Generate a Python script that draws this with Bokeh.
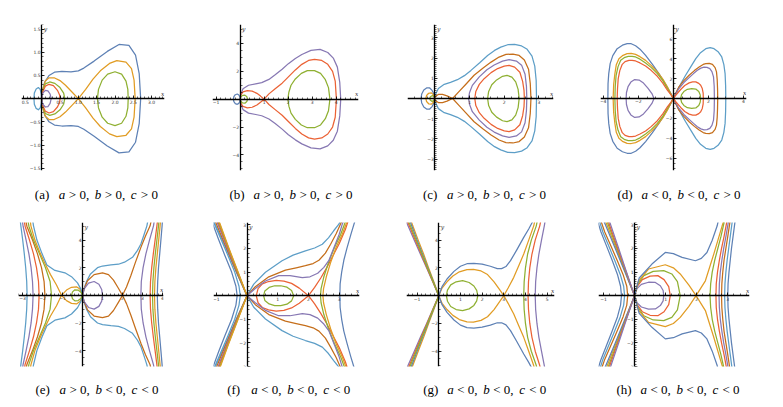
import numpy as np
from bokeh.plotting import figure
from bokeh.models import ColumnDataSource, FixedTicker, Label, Range1d
from bokeh.core.properties import value
from bokeh.layouts import row, column
from bokeh.embed import file_html
from bokeh.resources import INLINE

BLUE = "#5E81B5"; ORANGE = "#E19C24"; GREEN = "#8FB032"; RED = "#EB6235"
PURPLE = "#8778B3"; DORANGE = "#C56E1A"; LBLUE = "#5D9EC7"

# ---------------- curve data (upper halves / one branch; the other is the x-axis mirror)
# (a)
a_big = [(0,0),(0.02,0.15),(0.08,0.35),(0.2,0.5),(0.35,0.57),(0.55,0.59),(0.8,0.58),(1.0,0.6),(1.15,0.66),(1.43,0.81),(1.79,1.02),(2.11,1.17),(2.38,1.15),(2.56,0.94),(2.66,0.54),(2.7,0)]
a_sep = [(0,0),(0.03,0.2),(0.1,0.38),(0.2,0.45),(0.34,0.45),(0.5,0.39),(0.65,0.29),(0.82,0.15),(1.0,0),(1.2,0.2),(1.4,0.42),(1.6,0.6),(1.85,0.76),(2.05,0.82),(2.3,0.79),(2.45,0.65),(2.52,0.4),(2.55,0)]
a_green_l = [(0,0),(0.03,0.18),(0.1,0.32),(0.22,0.36),(0.36,0.33),(0.5,0.24),(0.6,0.12),(0.63,0)]
a_green_r = [(1.52,0),(1.55,0.2),(1.65,0.4),(1.8,0.53),(2.0,0.58),(2.18,0.53),(2.3,0.38),(2.35,0.2),(2.36,0)]
a_red = [(0,0),(0.03,0.15),(0.1,0.27),(0.2,0.31),(0.32,0.28),(0.43,0.18),(0.49,0.08),(0.5,0)]
a_purple = [(0,0),(0.03,0.12),(0.1,0.18),(0.17,0.17),(0.23,0.1),(0.26,0)]
a_oval = [(-0.21,0),(-0.2,0.12),(-0.15,0.21),(-0.09,0.24),(-0.04,0.2),(-0.01,0.1),(0,0)]
# (b)
b_big = [(0,0),(0.03,0.35),(0.12,0.75),(0.35,1.0),(0.65,1.1),(0.9,1.19),(1.2,1.42),(1.46,1.75),(1.75,2.15),(2.01,2.55),(2.3,2.92),(2.57,3.21),(2.95,3.5),(3.33,3.57),(3.65,3.35),(3.88,2.95),(4.05,2.3),(4.15,1.2),(4.19,0)]
b_sep = [(0,0),(0.03,0.3),(0.12,0.52),(0.3,0.62),(0.5,0.58),(0.7,0.42),(0.85,0.22),(1.0,0),(1.2,0.38),(1.46,0.75),(1.75,1.15),(2.01,1.6),(2.3,2.1),(2.57,2.5),(2.85,2.78),(3.1,2.86),(3.4,2.78),(3.65,2.5),(3.85,2.0),(3.96,1.3),(4.01,0)]
b_green_l = [(0,0),(0.03,0.15),(0.1,0.27),(0.2,0.29),(0.28,0.17),(0.31,0)]
b_green_r = [(1.99,0),(2.03,0.5),(2.12,1.0),(2.3,1.45),(2.55,1.85),(2.8,2.05),(3.1,2.05),(3.35,1.85),(3.55,1.4),(3.68,0.83),(3.74,0)]
b_oval = [(-0.28,0),(-0.26,0.18),(-0.2,0.32),(-0.12,0.37),(-0.05,0.3),(-0.01,0.15),(0,0)]
# (c)
c_big = [(0,0),(0.03,0.25),(0.1,0.5),(0.27,0.7),(0.45,0.8),(0.65,0.93),(0.85,1.13),(1.04,1.39),(1.3,1.78),(1.52,2.13),(1.72,2.38),(1.9,2.54),(2.1,2.66),(2.3,2.68),(2.5,2.6),(2.65,2.45),(2.8,2.1),(2.88,1.6),(2.92,0.9),(2.93,0)]
c_sep = [(0,0),(0.03,0.13),(0.1,0.2),(0.22,0.2),(0.35,0.13),(0.51,0),(0.7,0.35),(0.9,0.72),(1.13,1.15),(1.4,1.52),(1.62,1.8),(1.85,2.05),(2.05,2.18),(2.25,2.2),(2.43,2.13),(2.58,1.9),(2.7,1.45),(2.75,0.74),(2.77,0)]
c_purple = [(0.97,0),(1.0,0.3),(1.08,0.65),(1.28,1.07),(1.5,1.42),(1.71,1.66),(1.95,1.85),(2.14,1.92),(2.35,1.85),(2.5,1.65),(2.6,1.2),(2.64,0.6),(2.65,0)]
c_red = [(1.15,0),(1.18,0.35),(1.28,0.7),(1.42,0.98),(1.62,1.28),(1.81,1.48),(2.0,1.6),(2.14,1.64),(2.3,1.55),(2.45,1.3),(2.53,0.85),(2.57,0.4),(2.58,0)]
c_green = [(1.52,0),(1.55,0.35),(1.64,0.68),(1.78,0.92),(1.95,1.1),(2.08,1.14),(2.22,1.06),(2.33,0.82),(2.4,0.45),(2.43,0)]
c_oval_b = [(-0.4,0),(-0.38,0.22),(-0.32,0.42),(-0.24,0.52),(-0.15,0.52),(-0.08,0.4),(-0.03,0.22),(0,0)]
c_oval_o = [(-0.26,0),(-0.24,0.15),(-0.18,0.26),(-0.1,0.28),(-0.04,0.18),(0,0)]
c_oval_g = [(-0.15,0),(-0.13,0.09),(-0.08,0.14),(-0.03,0.1),(0,0)]
# (d)
d_blue_l = [(0,0),(-0.12,0.45),(-0.3,1.0),(-0.55,1.75),(-0.82,2.5),(-1.2,3.45),(-1.58,4.33),(-1.9,4.95),(-2.15,5.3),(-2.4,5.5),(-2.63,5.5),(-2.9,5.35),(-3.2,5.0),(-3.45,4.3),(-3.6,3.5),(-3.68,2.5),(-3.72,1.5),(-3.73,0)]
d_orange_l = [(0,0),(-0.12,0.4),(-0.34,1.17),(-0.6,1.95),(-0.91,2.67),(-1.25,3.3),(-1.58,3.83),(-1.9,4.2),(-2.15,4.43),(-2.4,4.52),(-2.63,4.5),(-2.9,4.3),(-3.1,4.0),(-3.25,3.4),(-3.33,2.5),(-3.4,1.4),(-3.43,0)]
d_green_l = [(0,0),(-0.12,0.37),(-0.34,1.0),(-0.6,1.8),(-0.91,2.5),(-1.25,3.1),(-1.58,3.57),(-1.9,3.95),(-2.15,4.17),(-2.35,4.23),(-2.57,4.23),(-2.8,4.1),(-3.0,3.83),(-3.15,3.2),(-3.26,2.33),(-3.31,1.2),(-3.33,0)]
d_red_l = [(0,0),(-0.12,0.33),(-0.34,0.83),(-0.6,1.55),(-0.91,2.23),(-1.25,2.8),(-1.58,3.27),(-1.9,3.57),(-2.15,3.77),(-2.35,3.83),(-2.53,3.83),(-2.75,3.7),(-2.91,3.43),(-3.05,2.8),(-3.14,2.0),(-3.18,1.0),(-3.2,0)]
d_purple_l = [(-2.69,0),(-2.67,0.6),(-2.58,1.2),(-2.42,1.65),(-2.2,1.9),(-1.95,1.85),(-1.7,1.55),(-1.45,1.05),(-1.22,0.5),(-1.1,0)]
d_lblue_r = [(0,0),(0.1,0.4),(0.23,0.83),(0.45,1.55),(0.7,2.33),(1.0,3.2),(1.28,4.0),(1.55,4.6),(1.85,5.0),(2.1,5.1),(2.32,5.0),(2.55,4.7),(2.76,4.17),(2.88,3.4),(2.95,2.5),(2.98,1.3),(2.99,0)]
d_dorange_r = [(0,0),(0.12,0.45),(0.32,1.17),(0.6,1.8),(0.9,2.33),(1.2,2.8),(1.47,3.17),(1.7,3.42),(1.85,3.5),(2.05,3.52),(2.23,3.43),(2.38,3.1),(2.46,2.67),(2.5,1.9),(2.52,1.0),(2.53,0)]
d_purple_r = [(0,0),(0.12,0.4),(0.32,1.0),(0.6,1.6),(0.9,2.1),(1.15,2.5),(1.37,2.83),(1.57,3.05),(1.75,3.15),(1.92,3.12),(2.08,3.0),(2.2,2.7),(2.29,2.17),(2.33,1.2),(2.34,0)]
d_red_r = [(0,0),(0.15,0.35),(0.42,0.9),(0.65,1.3),(0.9,1.57),(1.1,1.67),(1.28,1.67),(1.45,1.52),(1.56,1.33),(1.65,1.0),(1.7,0.55),(1.71,0)]
d_green_r = [(0.42,0),(0.47,0.4),(0.6,0.7),(0.8,0.92),(1.05,1.0),(1.28,0.95),(1.45,0.7),(1.53,0.38),(1.56,0)]
# (e)
e_lb_l = [(-2.77,0),(-2.79,1),(-2.84,2),(-2.91,3),(-2.99,4),(-3.08,5),(-3.12,5.5)]
e_pu_l = [(-2.47,0),(-2.5,1),(-2.57,2),(-2.68,3),(-2.82,4),(-2.97,5),(-3.02,5.5)]
e_re_l = [(-2.17,0),(-2.2,1),(-2.3,2),(-2.45,3),(-2.65,4),(-2.87,5),(-2.93,5.5)]
e_do_l = [(-1.88,0),(-1.92,1),(-2.05,2),(-2.25,3),(-2.5,4),(-2.78,5),(-2.85,5.5)]
e_gr_l = [(-1.55,0),(-1.62,1),(-1.85,2),(-2.15,3),(-2.45,4),(-2.68,5),(-2.74,5.5)]
e_or_sep = [(-2.62,5.5),(-2.58,5.03),(-2.38,4.0),(-2.1,3.0),(-1.84,2.2),(-1.6,1.5),(-1.3,0.75),(-1.05,0),(-0.8,-0.38),(-0.55,-0.58),(-0.3,-0.62),(-0.13,-0.45),(-0.03,-0.18),(0,0)]
e_lb_mid = [(-2.5,5.5),(-2.45,5.03),(-2.28,4.0),(-2.02,3.0),(-1.78,2.2),(-1.38,1.8),(-0.88,1.63),(-0.55,1.35),(-0.25,0.9),(-0.08,0.45),(0,0),(0.08,0.5),(0.2,1.0),(0.4,1.55),(0.75,2.0),(1.0,2.12),(1.42,2.2),(1.8,2.25),(2.1,2.4),(2.5,2.75),(2.75,3.25),(2.92,3.71),(3.08,4.4),(3.22,5.03),(3.28,5.5)]
e_do_sep = [(0,0),(0.08,0.45),(0.25,1.05),(0.58,1.5),(1.0,1.62),(1.3,1.5),(1.55,1.1),(1.78,0.55),(2.0,0),(2.2,-0.6),(2.42,-1.44),(2.65,-2.4),(2.92,-3.47),(3.15,-4.3),(3.38,-5.03),(3.45,-5.5)]
e_pu_loop = [(0,0),(0.1,0.5),(0.3,0.88),(0.58,1.0),(0.82,0.8),(0.96,0.42),(1.0,0)]
e_gr_loop = [(-0.55,0),(-0.5,0.25),(-0.38,0.4),(-0.22,0.38),(-0.08,0.22),(0,0)]
e_pu_r = [(2.92,0),(2.94,1),(3.03,2),(3.17,3),(3.35,4),(3.55,5.03),(3.6,5.5)]
e_re_r = [(3.38,0),(3.4,1),(3.46,2),(3.54,3),(3.63,4),(3.72,5.03),(3.76,5.5)]
e_gr_r = [(3.5,0),(3.52,1),(3.57,2),(3.64,3),(3.72,4),(3.8,5.03),(3.83,5.5)]
e_or_r = [(3.6,0),(3.62,1),(3.67,2),(3.74,3),(3.81,4),(3.88,5.03),(3.91,5.5)]
e_bl_r = [(3.74,0),(3.76,1),(3.8,2),(3.86,3),(3.92,4),(3.98,5.03),(4.0,5.5)]
# (f)
f_gr_loop = [(0.54,0),(0.58,0.2),(0.72,0.35),(0.9,0.42),(1.1,0.42),(1.3,0.36),(1.45,0.22),(1.52,0)]
f_re_loop = [(0.3,0),(0.36,0.3),(0.5,0.5),(0.7,0.6),(0.95,0.65),(1.2,0.62),(1.45,0.52),(1.7,0.32),(2.0,0)]
f_re_br = [(2.0,0),(2.2,0.35),(2.4,0.75),(2.6,1.2),(2.8,1.7),(3.0,2.2),(3.2,2.8),(3.3,3.2)]
f_gr_r = [(2.39,0),(2.41,0.3),(2.5,0.8),(2.65,1.4),(2.85,2.05),(3.05,2.6),(3.22,3.2)]
f_or_r = [(2.47,0),(2.49,0.3),(2.58,0.8),(2.72,1.4),(2.9,2.05),(3.1,2.6),(3.27,3.2)]
f_bl_r = [(3.02,0),(3.03,0.5),(3.08,1.0),(3.15,1.5),(3.25,2.0),(3.38,2.6),(3.52,3.2)]
f_lb = [(-1.1,-3.2),(-0.7,-2.05),(-0.35,-1.0),(0,0),(0.22,0.49),(0.6,0.99),(1.14,1.48),(1.5,1.72),(1.9,1.9),(2.2,2.02),(2.45,2.18),(2.65,2.45),(2.82,2.75),(2.99,3.03),(3.05,3.2)]
f_do = [(-1.05,-3.2),(-0.68,-2.05),(-0.34,-1.0),(0,0),(0.27,0.38),(0.71,0.8),(1.25,1.08),(1.6,1.18),(1.9,1.27),(2.15,1.36),(2.34,1.5),(2.55,1.8),(2.72,2.18),(2.9,2.62),(3.04,3.03),(3.1,3.2)]
f_pu = [(-1.0,-3.2),(-0.65,-2.05),(-0.32,-1.0),(0,0),(0.27,0.3),(0.6,0.62),(1.03,0.85),(1.4,0.85),(1.8,0.76),(2.05,0.8),(2.3,0.95),(2.5,1.2),(2.66,1.48),(2.85,2.1),(3.0,2.6),(3.1,3.03),(3.15,3.2)]
f_re_l = [(0,0),(-0.31,-1.0),(-0.63,-2.05),(-0.97,-3.2)]
f_gr_l = [(0,0),(-0.3,-1.0),(-0.61,-2.05),(-0.94,-3.2)]
f_or_l = [(0,0),(-0.29,-1.0),(-0.6,-2.05),(-0.92,-3.2)]
f_lb_l = [(-0.22,0),(-0.26,0.4),(-0.4,1.0),(-0.62,1.7),(-0.85,2.4),(-1.05,3.0),(-1.12,3.2)]
f_bl_l = [(-0.32,0),(-0.36,0.4),(-0.5,1.0),(-0.72,1.7),(-0.93,2.4),(-1.1,3.0),(-1.16,3.2)]
# (g)
g_gr_loop = [(0.35,0),(0.4,0.4),(0.55,0.78),(0.8,1.0),(1.1,1.08),(1.4,0.95),(1.62,0.7),(1.75,0.38),(1.8,0)]
g_or = [(-1.3,-5.5),(-1.2,-5.03),(-0.95,-4.0),(-0.7,-3.0),(-0.47,-2.0),(-0.23,-1.0),(0,0),(0.15,0.55),(0.38,1.0),(0.65,1.42),(0.95,1.72),(1.3,1.88),(1.6,1.9),(1.95,1.78),(2.25,1.52),(2.55,1.0),(2.8,0.45),(3.0,0),(3.2,-0.55),(3.46,-1.32),(3.7,-2.2),(3.92,-3.0),(4.15,-4.0),(4.38,-5.03),(4.45,-5.5)]
g_bl = [(-1.36,-5.5),(-1.25,-5.03),(-1.0,-4.0),(-0.75,-3.0),(-0.5,-2.0),(-0.25,-1.0),(0,0),(0.15,0.65),(0.38,1.2),(0.7,1.75),(1.0,2.12),(1.3,2.3),(1.62,2.33),(2.0,2.27),(2.38,2.12),(2.7,1.95),(2.9,1.95),(3.1,2.1),(3.31,2.52),(3.6,3.3),(3.92,4.2),(4.15,4.8),(4.31,5.27),(4.35,5.5)]
g_gr_r = [(3.92,0),(3.94,1),(4.0,2),(4.1,3),(4.27,4),(4.5,5.03),(4.56,5.5)]
g_re_r = [(4.12,0),(4.14,1),(4.2,2),(4.3,3),(4.45,4),(4.66,5.03),(4.72,5.5)]
g_pu_r = [(4.45,0),(4.47,1),(4.53,2),(4.62,3),(4.74,4),(4.87,5.03),(4.92,5.5)]
g_pu_l = [(0,0),(-0.28,-1.0),(-0.56,-2.0),(-0.85,-3.0),(-1.13,-4.0),(-1.42,-5.03),(-1.55,-5.5)]
g_re_l = [(0,0),(-0.27,-1.0),(-0.54,-2.0),(-0.81,-3.0),(-1.08,-4.0),(-1.36,-5.03),(-1.49,-5.5)]
g_gr_l = [(0,0),(-0.26,-1.0),(-0.52,-2.0),(-0.78,-3.0),(-1.04,-4.0),(-1.31,-5.03),(-1.43,-5.5)]
# (h)
h_pu_loop = [(0,0),(0.08,0.3),(0.22,0.48),(0.45,0.57),(0.67,0.56),(0.83,0.42),(0.92,0.22),(0.94,0)]
h_re_loop = [(0,0),(0.08,0.38),(0.25,0.68),(0.5,0.83),(0.75,0.85),(0.95,0.68),(1.1,0.38),(1.15,0)]
h_gr_loop = [(0,0),(0.1,0.48),(0.3,0.85),(0.6,1.03),(0.94,1.06),(1.2,0.92),(1.38,0.6),(1.47,0)]
h_or = [(-0.95,-3.2),(-0.59,-2.0),(-0.29,-1.0),(0,0),(0.12,0.6),(0.45,1.13),(0.99,1.31),(1.25,1.18),(1.47,0.92),(1.75,0.45),(1.98,0),(2.28,-0.63),(2.55,-1.76),(2.82,-2.96),(2.88,-3.2)]
h_bl = [(-1.0,-3.2),(-0.62,-2.0),(-0.31,-1.0),(0,0),(0.15,0.75),(0.56,1.34),(0.99,1.83),(1.25,1.78),(1.53,1.62),(1.96,1.48),(2.15,1.58),(2.33,1.83),(2.5,2.35),(2.66,2.96),(2.7,3.2)]
h_gr_r = [(2.43,0),(2.45,0.5),(2.5,1.0),(2.58,1.5),(2.68,2.0),(2.78,2.5),(2.9,3.2)]
h_re_r = [(2.62,0),(2.63,0.5),(2.67,1.0),(2.73,1.5),(2.8,2.0),(2.88,2.5),(2.98,3.2)]
h_pu_r = [(2.72,0),(2.73,0.5),(2.76,1.0),(2.81,1.5),(2.87,2.0),(2.94,2.5),(3.03,3.2)]
h_do_r = [(2.8,0),(2.81,0.5),(2.84,1.0),(2.88,1.5),(2.94,2.0),(3.0,2.5),(3.08,3.2)]
h_lb_r = [(2.9,0),(2.91,0.5),(2.94,1.0),(2.98,1.5),(3.03,2.0),(3.08,2.5),(3.15,3.2)]
h_bl_r = [(3.0,0),(3.01,0.5),(3.04,1.0),(3.08,1.5),(3.12,2.0),(3.17,2.5),(3.24,3.2)]
h_bl_l = [(-0.42,0),(-0.45,0.4),(-0.55,0.9),(-0.72,1.5),(-0.9,2.1),(-1.08,2.7),(-1.2,3.2)]
h_lb_l = [(-0.32,0),(-0.35,0.4),(-0.46,0.9),(-0.64,1.5),(-0.83,2.1),(-1.02,2.7),(-1.14,3.2)]
h_do_l = [(-0.22,0),(-0.25,0.4),(-0.37,0.9),(-0.56,1.5),(-0.76,2.1),(-0.96,2.7),(-1.09,3.2)]
h_gr_l = [(0,0),(-0.28,-1.0),(-0.56,-2.0),(-0.9,-3.2)]
h_re_l = [(0,0),(-0.27,-1.0),(-0.54,-2.0),(-0.86,-3.2)]
h_pu_l = [(0,0),(-0.26,-1.0),(-0.51,-2.0),(-0.82,-3.2)]

# ---------------- tick values / labels
a_xt = [-0.5, 0.5, 1.0, 1.5, 2.0, 2.5, 3.0]; a_xl = ["−0.5", "0.5", "1.0", "1.5", "2.0", "2.5", "3.0"]
a_yt = [-1.5, -1.0, -0.5, 0.5, 1.0, 1.5]; a_yl = ["−1.5", "−1.0", "−0.5", "0.5", "1.0", "1.5"]
b_xt = [-1, 1, 2, 3, 4]; b_yt = [-4, -2, 2, 4]
c_xt = [1, 2, 3]; c_yt = [-3, -2, -1, 1, 2, 3]
d_xt = [-4, -2, 2, 4]; d_yt = [-6, -4, -2, 2, 4, 6]
e_xt = [-3, -2, -1, 1, 2, 3, 4]; e_yt = [-4, -2, 2, 4]
f_xt = [-1, 1, 2, 3]; f_yt = [-3, -2, -1, 1, 2, 3]
g_xt = [-1, 1, 2, 3, 4, 5]; g_yt = [-4, -2, 2, 4]
h_xt = [-1, 1, 2, 3]; h_yt = [-3, -2, -1, 1, 2, 3]

def int_labels(t):
    return [("−%d" % -v) if v < 0 else "%d" % v for v in t]

# caption signs for a, b, c
SIGNS = {"a": ">>>", "b": ">>>", "c": ">>>", "d": "<<>", "e": "><<", "f": "<<<", "g": "<<<", "h": "<<<"}

PANELS = [
    dict(tag="a", curves=[(a_big, BLUE, "loop"), (a_sep, ORANGE, "loop"), (a_green_l, GREEN, "loop"), (a_green_r, GREEN, "loop"),
                          (a_red, RED, "loop"), (a_purple, PURPLE, "loop"), (a_oval, LBLUE, "loop")],
         xr=(-0.55, 3.35), yr=(-1.55, 1.6), xt=a_xt, xl=a_xl, yt=a_yt, yl=a_yl, xm=0.1, ym=0.1,
         w=200, h=178, b=(21, 36, 24, 8), capx=34.3),
    dict(tag="b", curves=[(b_big, PURPLE, "loop"), (b_sep, RED, "loop"), (b_green_l, GREEN, "loop"), (b_green_r, GREEN, "loop"),
                          (b_oval, BLUE, "loop")],
         xr=(-1.15, 4.93), yr=(-5.12, 5.36), xt=b_xt, xl=int_labels(b_xt), yt=b_yt, yl=int_labels(b_yt), xm=0.2, ym=0.5,
         w=194, h=178, b=(12, 36, 23, 8), capx=29),
    dict(tag="c", curves=[(c_big, LBLUE, "loop"), (c_sep, DORANGE, "loop"), (c_purple, PURPLE, "loop"), (c_red, RED, "loop"),
                          (c_green, GREEN, "loop"), (c_oval_b, BLUE, "loop"), (c_oval_o, ORANGE, "loop"), (c_oval_g, GREEN, "loop")],
         xr=(-0.79, 3.42), yr=(-3.56, 3.66), xt=c_xt, xl=int_labels(c_xt), yt=c_yt, yl=int_labels(c_yt), xm=0.2, ym=0.1,
         w=194, h=178, b=(13, 35, 24, 7), capx=28.5),
    dict(tag="d", curves=[(d_blue_l, BLUE, "loop"), (d_orange_l, ORANGE, "loop"), (d_green_l, GREEN, "loop"), (d_red_l, RED, "loop"),
                          (d_purple_l, PURPLE, "loop"), (d_lblue_r, LBLUE, "loop"), (d_dorange_r, DORANGE, "loop"),
                          (d_purple_r, PURPLE, "loop"), (d_red_r, RED, "loop"), (d_green_r, GREEN, "loop")],
         xr=(-4.15, 4.17), yr=(-7.23, 7.43), xt=d_xt, xl=int_labels(d_xt), yt=d_yt, yl=int_labels(d_yt), xm=0.5, ym=0.5,
         w=187, h=178, b=(12, 29, 24, 7), capx=29),
    dict(tag="e", curves=[(e_lb_l, LBLUE, "open"), (e_pu_l, PURPLE, "open"), (e_re_l, RED, "open"), (e_do_l, DORANGE, "open"),
                          (e_gr_l, GREEN, "open"), (e_or_sep, ORANGE, "pair"), (e_lb_mid, LBLUE, "pair"), (e_do_sep, DORANGE, "pair"),
                          (e_pu_loop, PURPLE, "loop"), (e_gr_loop, GREEN, "loop"), (e_pu_r, PURPLE, "open"), (e_re_r, RED, "open"),
                          (e_gr_r, GREEN, "open"), (e_or_r, ORANGE, "open"), (e_bl_r, BLUE, "open")],
         xr=(-3.2, 4.05), yr=(-5.15, 5.27), xt=e_xt, xl=int_labels(e_xt), yt=e_yt, yl=int_labels(e_yt), xm=0.2, ym=0.5,
         w=200, h=166, b=(18, 37, 14, 7), capx=35),
    dict(tag="f", curves=[(f_gr_loop, GREEN, "loop"), (f_re_loop, RED, "loop"), (f_re_br, RED, "pair"), (f_gr_r, GREEN, "open"),
                          (f_or_r, ORANGE, "open"), (f_bl_r, BLUE, "open"), (f_lb, LBLUE, "pair"), (f_do, DORANGE, "pair"),
                          (f_pu, PURPLE, "pair"), (f_re_l, RED, "pair"), (f_gr_l, GREEN, "pair"), (f_or_l, ORANGE, "pair"),
                          (f_lb_l, LBLUE, "open"), (f_bl_l, BLUE, "open")],
         xr=(-1.09, 3.66), yr=(-3.0, 3.1), xt=f_xt, xl=int_labels(f_xt), yt=f_yt, yl=int_labels(f_yt), xm=0.2, ym=0.2,
         w=194, h=166, b=(13, 35, 14, 8), capx=26.7),
    dict(tag="g", curves=[(g_gr_loop, GREEN, "loop"), (g_or, ORANGE, "pair"), (g_bl, BLUE, "pair"), (g_gr_r, GREEN, "open"),
                          (g_re_r, RED, "open"), (g_pu_r, PURPLE, "open"), (g_pu_l, PURPLE, "pair"), (g_re_l, RED, "pair"),
                          (g_gr_l, GREEN, "pair")],
         xr=(-1.49, 5.34), yr=(-5.1, 5.27), xt=g_xt, xl=int_labels(g_xt), yt=g_yt, yl=int_labels(g_yt), xm=0.2, ym=0.5,
         w=194, h=166, b=(12, 34, 14, 8), capx=28.7),
    dict(tag="h", curves=[(h_pu_loop, PURPLE, "loop"), (h_re_loop, RED, "loop"), (h_gr_loop, GREEN, "loop"), (h_or, ORANGE, "pair"),
                          (h_bl, BLUE, "pair"), (h_gr_r, GREEN, "open"), (h_re_r, RED, "open"), (h_pu_r, PURPLE, "open"),
                          (h_do_r, DORANGE, "open"), (h_lb_r, LBLUE, "open"), (h_bl_r, BLUE, "open"), (h_bl_l, BLUE, "open"),
                          (h_lb_l, LBLUE, "open"), (h_do_l, DORANGE, "open"), (h_gr_l, GREEN, "pair"), (h_re_l, RED, "pair"),
                          (h_pu_l, PURPLE, "pair")],
         xr=(-1.16, 3.7), yr=(-3.0, 3.1), xt=h_xt, xl=int_labels(h_xt), yt=h_yt, yl=int_labels(h_yt), xm=0.2, ym=0.1,
         w=187, h=166, b=(10, 26, 14, 8), capx=28),
]

CAP_H = [30, 25]         # caption strip height for row 1 / row 2
CAP_BASE = [16, 15]      # baseline position from the strip top


def mirror(pts):
    return [(x, -y) for x, y in pts]


def paths(pts, mode):
    if mode == "loop":
        return [pts + mirror(pts)[::-1]]
    if mode == "open":
        return [mirror(pts)[::-1] + pts]
    return [pts, mirror(pts)]


def key(v):
    return int(v) if float(v).is_integer() else float(v)


def minor(lo, hi, step):
    n0 = int(np.ceil(lo / step)); n1 = int(np.floor(hi / step))
    return [round(k * step, 4) for k in range(n0, n1 + 1)]


SERIF = "Liberation Serif"


def make_panel(P):
    bl, br, bt, bb = P["b"]
    p = figure(width=P["w"], height=P["h"], x_range=P["xr"], y_range=P["yr"], output_backend="svg",
               toolbar_location=None, title=None, min_border_left=bl, min_border_right=br,
               min_border_top=bt, min_border_bottom=bb)
    p.outline_line_color = None
    p.grid.visible = False
    p.background_fill_color = "white"
    p.border_fill_color = "white"

    xs, ys, cs = [], [], []
    for pts, col, mode in P["curves"]:
        for path in paths(pts, mode):
            xs.append([q[0] for q in path]); ys.append([q[1] for q in path]); cs.append(col)
    src = ColumnDataSource(dict(xs=xs, ys=ys, color=cs))
    p.multi_line("xs", "ys", source=src, line_color="color", line_width=1.25, line_join="round")

    p.xaxis.ticker = FixedTicker(ticks=P["xt"], minor_ticks=minor(P["xr"][0], P["xr"][1], P["xm"]))
    p.yaxis.ticker = FixedTicker(ticks=P["yt"], minor_ticks=minor(P["yr"][0], P["yr"][1], P["ym"]))
    p.xaxis.major_label_overrides = {key(t): s for t, s in zip(P["xt"], P["xl"])}
    p.yaxis.major_label_overrides = {key(t): s for t, s in zip(P["yt"], P["yl"])}
    for ax in (p.xaxis[0], p.yaxis[0]):
        ax.fixed_location = 0
        ax.axis_line_color = "black"
        ax.axis_line_width = 1.3
        ax.major_tick_in = 3
        ax.major_tick_out = 0
        ax.minor_tick_in = 2
        ax.minor_tick_out = 0
        ax.major_tick_line_width = 0.8
        ax.minor_tick_line_width = 0.6
        ax.major_label_text_font = "DejaVu Sans"
        ax.major_label_text_font_size = "4.5px"
        ax.major_label_text_color = "#333333"
        ax.major_label_standoff = 1

    # axis names at the ends of the axes (inside the plot frame)
    p.add_layout(Label(x=0, y=P["yr"][1], x_offset=2, text="y", text_font="DejaVu Serif", text_font_style="italic",
                       text_font_size="6px", text_align="left", text_baseline="top", text_color="#333333"))
    p.add_layout(Label(x=P["xr"][1], y=0, y_offset=2, text="x", text_font="DejaVu Serif", text_font_style="italic",
                       text_font_size="6px", text_align="right", text_baseline="bottom", text_color="#333333"))
    return p


def make_caption(P, r):
    w, h = P["w"], CAP_H[r]
    c = figure(width=w, height=h, x_range=Range1d(0, w), y_range=Range1d(h, 0), output_backend="svg",
               toolbar_location=None, title=None, min_border=0)
    c.axis.visible = False
    c.grid.visible = False
    c.outline_line_color = None
    cx, by = P["capx"], CAP_BASE[r]
    signs = SIGNS[P["tag"]]
    up_x, up_t, it_x, it_t = [cx], ["(%s)" % P["tag"]], [], []
    for i, (letter, sg) in enumerate(zip("abc", signs)):
        x0 = cx + 24 + 36 * i
        it_x.append(x0); it_t.append(letter)
        up_x.append(x0 + 10); up_t.append("%s 0%s" % (sg, "," if i < 2 else ""))
    c.text(x=up_x, y=[by] * len(up_x), text=up_t, text_font=value(SERIF), text_font_size="13px",
           text_baseline="alphabetic", text_color="#000000")
    c.text(x=it_x, y=[by] * len(it_x), text=it_t, text_font=value(SERIF), text_font_size="13px",
           text_font_style="italic", text_baseline="alphabetic", text_color="#000000")
    return c


figs = [make_panel(P) for P in PANELS]
caps = [make_caption(P, 0 if i < 4 else 1) for i, P in enumerate(PANELS)]
layout = column(row(*figs[:4]), row(*caps[:4]), row(*figs[4:]), row(*caps[4:]))
open("out.html", "w").write(file_html(layout, INLINE))
